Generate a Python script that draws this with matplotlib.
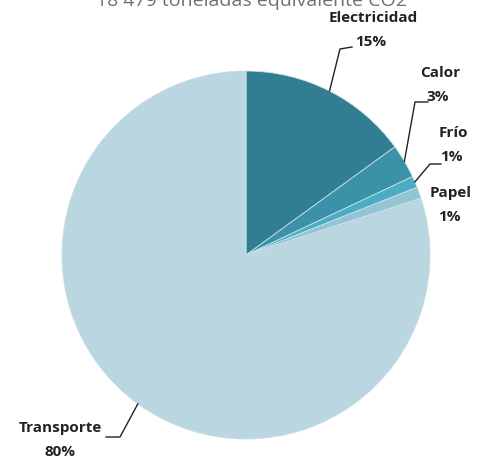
import numpy as np
from matplotlib import pyplot as plt

title = '18 479 toneladas equivalente CO2'
labels = ['Electricidad', 'Calor', 'Frío', 'Papel', 'Transporte']
values = [15, 3, 1, 1, 80]
colors = ['#317d91', '#3a91a8', '#4bacc6', '#93c4d4', '#bad6e1']

W, H = 482, 459
cx, cy, R = 246, H - 255, 184

# label text positions (pixels from top-left) and leader elbow points
txt_pos = {'Electricidad': (373, 18), 'Calor': (440, 73), 'Frío': (453, 133),
           'Papel': (451, 193), 'Transporte': (60, 428)}
elbow = {'Electricidad': [(340, 49), (352, 47)],
         'Calor': [(415, 102), (428, 102)],
         'Frío': [(430, 164), (441, 164)],
         'Transporte': [(120, 437), (106, 437)]}

fig = plt.figure(figsize=(W / 100, H / 100), dpi=100)
ax = fig.add_axes([0, 0, 1, 1])

wedges, _ = ax.pie(values, colors=colors, startangle=90, counterclock=False,
                   center=(cx, cy), radius=R, frame=True,
                   wedgeprops={'linewidth': 0.6, 'edgecolor': '#c9dfe7'})
ax.set_xlim(0, W)
ax.set_ylim(0, H)
ax.set_aspect('equal')
ax.axis('off')

# title sits partly above the top edge, as in the original export
ax.text(251, H - 6, title, ha='center', va='baseline', fontsize=14,
        color='#707070', family='Open Sans')

for w, lab, v in zip(wedges, labels, values):
    tx, ty = txt_pos[lab]
    ax.text(tx, H - ty, lab, ha='center', va='center', fontsize=11,
            color='#222222', family='Open Sans', fontweight='bold')
    ax.text(tx - 2 if lab != 'Transporte' else tx, H - ty - 24, '%d%%' % v,
            ha='center', va='center', fontsize=11, color='#222222',
            family='Open Sans', fontweight='bold')
    if lab in elbow:
        ang = np.deg2rad((w.theta1 + w.theta2) / 2)
        xs = [cx + R * np.cos(ang)] + [p[0] for p in elbow[lab]]
        ys = [cy + R * np.sin(ang)] + [H - p[1] for p in elbow[lab]]
        ax.plot(xs, ys, color='#222222', lw=1)

fig.savefig('out.png', dpi=100)
